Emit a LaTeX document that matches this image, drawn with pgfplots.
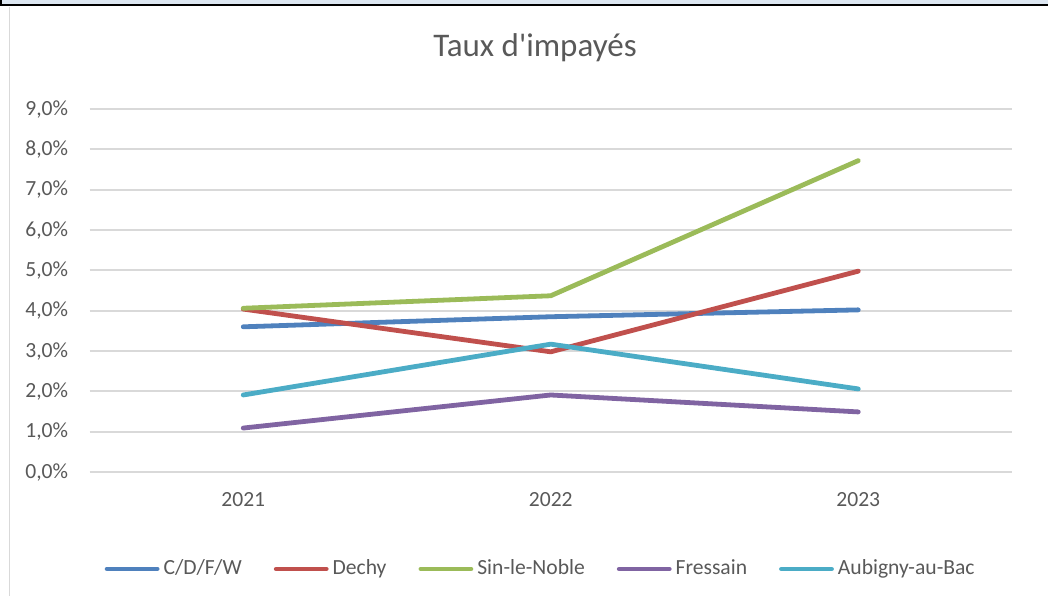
\documentclass[border=0pt]{standalone}
\usepackage{fontspec}
\setmainfont{Carlito}
\usepackage{pgfplots}
\pgfplotsset{compat=1.18}
\definecolor{txt}{HTML}{595959}
\definecolor{grd}{HTML}{D9D9D9}
\definecolor{band}{HTML}{DCE6F1}
\definecolor{sblue}{HTML}{4F81BD}
\definecolor{sred}{HTML}{C0504D}
\definecolor{sgreen}{HTML}{9BBB59}
\definecolor{spurple}{HTML}{8064A2}
\definecolor{saqua}{HTML}{4BACC6}
\begin{document}
\begin{tikzpicture}
\useasboundingbox (0,0) rectangle (524pt,-298pt);
% bandeau du tableur au-dessus du graphique
\fill[band] (0,0) rectangle (524pt,-2.75pt);
\draw[black, line width=1pt] (0,-2.5pt) -- (524pt,-2.5pt);
\draw[black, line width=0.8pt] (0.4pt,0) -- (0.4pt,-2.5pt);
\draw[grd, line width=0.8pt] (4.8pt,-3.5pt) -- (4.8pt,-298pt);
\node[txt, font=\fontsize{16.5}{19}\selectfont, anchor=base] at (267.5pt,-28pt) {Taux d\textquotesingle impayés};
\begin{axis}[
  at={(44.75pt,-236pt)}, anchor=south west,
  scale only axis, width=461.25pt, height=181.5pt,
  xmin=-0.5, xmax=2.5, ymin=0, ymax=9,
  axis line style={draw=none},
  xtick={0,1,2}, xticklabels={2021,2022,2023},
  ytick={0,1,...,9},
  yticklabels={{0,0\%},{1,0\%},{2,0\%},{3,0\%},{4,0\%},{5,0\%},{6,0\%},{7,0\%},{8,0\%},{9,0\%}},
  ymajorgrids, major grid style={grd, line width=0.95pt},
  major tick length=0pt, tick style={draw=none},
  tick label style={font=\fontsize{10.8}{13}\selectfont, text=txt},
  yticklabel style={inner sep=0pt, anchor=east, xshift=-10.5pt},
  xticklabel style={inner sep=0pt, anchor=north, yshift=-10pt},
  clip=false,
  every axis plot/.append style={line width=2.4pt, line cap=round, line join=round, mark=none},
  legend columns=5,
  legend style={at={(0.488,-0.267)}, anchor=center, draw=none, fill=none,
    font=\fontsize{10.8}{13}\selectfont, text=txt,
    nodes={inner sep=0pt},
    /tikz/every odd column/.append style={column sep=2pt},
    /tikz/every even column/.append style={column sep=16pt}},
  legend image code/.code={\draw[#1] (0pt,0pt) -- (25pt,0pt);},
]
\addplot[sblue]   coordinates {(0,3.60)(1,3.85)(2,4.02)};
\addlegendentry{C/D/F/W}
\addplot[sred]    coordinates {(0,4.04)(1,2.98)(2,4.98)};
\addlegendentry{Dechy}
\addplot[sgreen]  coordinates {(0,4.06)(1,4.37)(2,7.72)};
\addlegendentry{Sin-le-Noble}
\addplot[spurple] coordinates {(0,1.09)(1,1.91)(2,1.49)};
\addlegendentry{Fressain}
\addplot[saqua]   coordinates {(0,1.91)(1,3.17)(2,2.06)};
\addlegendentry{Aubigny-au-Bac}
\end{axis}
\end{tikzpicture}
\end{document}
